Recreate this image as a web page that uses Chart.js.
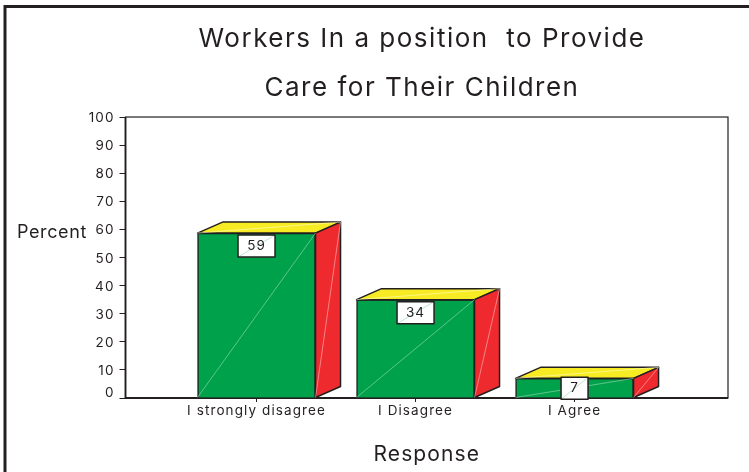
<!DOCTYPE html>
<html><head><meta charset="utf-8">
<style>html,body{margin:0;padding:0;background:#fff}canvas{display:block}</style>
<script src="https://cdn.jsdelivr.net/npm/chart.js@4"></script>
</head><body><canvas id="c" width="749" height="472"></canvas>
<script>
const titleLines = ['Workers In a position  to Provide', 'Care for Their Children'];
const categories = ['I strongly disagree', 'I Disagree', 'I Agree'];
const barHeights = [58.7, 35, 7];
const valueLabels = [59, 34, 7];
const yTicks = [0,10,20,30,40,50,60,70,80,90,100];
const xTitle = 'Response';
const yTitle = 'Percent';
const INK = '#231f20';
const FF = 'Inter, "Liberation Sans", Arial, sans-serif';
const DEPTH_X = 25, DEPTH_Y = 11;

function path(ctx, pts, fill){
  ctx.beginPath();
  pts.forEach((p,i)=> i ? ctx.lineTo(p[0],p[1]) : ctx.moveTo(p[0],p[1]));
  ctx.closePath();
  ctx.fillStyle = fill; ctx.fill();
  ctx.lineWidth = 1.5; ctx.strokeStyle = INK; ctx.lineJoin='round'; ctx.stroke();
}
function faint(ctx, a, b, col){
  ctx.beginPath(); ctx.moveTo(a[0],a[1]); ctx.lineTo(b[0],b[1]);
  ctx.lineWidth = 0.7; ctx.strokeStyle = col; ctx.stroke();
}
const chrome = {
  id:'chrome',
  afterLayout(chart){
    const t = chart.titleBlock;
    t.left = 116; t.right = 728;
    if(!t._spaced){
      t._spaced = true;
      const d = t.draw;
      t.draw = function(a){ const c=this.ctx; c.save(); c.letterSpacing='1.5px'; d.call(this,a); c.restore(); };
    }
  },
  beforeDraw(chart){
    const {ctx, chartArea:a} = chart;
    ctx.save();
    ctx.fillStyle='#fff'; ctx.fillRect(0,0,chart.width,chart.height);
    ctx.strokeStyle=INK; ctx.lineWidth=3;
    ctx.beginPath(); ctx.moveTo(5,472); ctx.lineTo(5,6.5); ctx.lineTo(749,6.5); ctx.stroke();
    ctx.lineWidth=1.2;
    ctx.strokeRect(a.left,a.top,a.right-a.left,a.bottom-a.top);
    ctx.lineWidth=1.8;
    ctx.beginPath(); ctx.moveTo(a.left,a.top); ctx.lineTo(a.left,a.bottom); ctx.lineTo(a.right,a.bottom); ctx.stroke();
    ctx.restore();
    ctx.letterSpacing='1.1px';
    chart.scales.y.getLabelItems().forEach(it=>{
      if(!it._moved){ it.options.translation[1] += it.label==='0' ? -5 : 1; it._moved=true; }
    });
  },
  afterDatasetsDraw(chart){
    const {ctx} = chart;
    const meta = chart.getDatasetMeta(0);
    ctx.save();
    ctx.letterSpacing='0px';
    meta.data.forEach((bar,i)=>{
      const w = bar.width, l = bar.x-w/2, r = bar.x+w/2, t = bar.y, b = bar.base;
      path(ctx,[[l,t],[l+DEPTH_X,t-DEPTH_Y],[r+DEPTH_X,t-DEPTH_Y],[r,t]],'#f7ec23');
      path(ctx,[[r,t],[r+DEPTH_X,t-DEPTH_Y],[r+DEPTH_X,b-DEPTH_Y],[r,b]],'#ee2a2e');
      faint(ctx,[l,b],[r,t],'rgba(190,235,210,.7)');
      faint(ctx,[r,b],[r+DEPTH_X,t-DEPTH_Y],'rgba(255,200,200,.8)');
      faint(ctx,[l,t],[r+DEPTH_X,t-DEPTH_Y],'rgba(255,255,210,.8)');
      const txt = String(valueLabels[i]);
      const bw = txt.length>1 ? 37 : 27, bh = 22;
      const by = i===2 ? t-1 : t+2;
      const bx = bar.x - bw/2;
      ctx.fillStyle='#fff'; ctx.fillRect(bx,by,bw,bh);
      faint(ctx,[bx,by+bh],[bx+bw,by],'rgba(120,200,160,.7)');
      ctx.lineWidth=1.5; ctx.strokeStyle=INK; ctx.strokeRect(bx,by,bw,bh);
      ctx.fillStyle=INK; ctx.font='13.5px '+FF; ctx.textAlign='center'; ctx.textBaseline='middle';
      ctx.letterSpacing='1px';
      ctx.fillText(txt,bar.x,by+bh/2);
      ctx.letterSpacing='0px';
    });
    ctx.restore();
  },
  afterDraw(chart){
    const {ctx} = chart;
    ctx.save();
    ctx.letterSpacing='0.6px';
    ctx.fillStyle=INK; ctx.font='18px '+FF; ctx.textAlign='left'; ctx.textBaseline='middle';
    ctx.fillText(yTitle,17,233);
    ctx.restore();
  }
};

new Chart(document.getElementById('c'),{
  type:'bar',
  plugins:[chrome],
  data:{datasets:[{
    data:barHeights.map((v,i)=>({x:i,y:v})),
    backgroundColor:'#00a14b',
    borderColor:INK,
    borderWidth:1.5,
    barThickness:118
  }]},
  options:{
    responsive:false,
    animation:false,
    layout:{padding:{left:0,right:21,top:0,bottom:0}},
    plugins:{
      legend:{display:false},
      tooltip:{enabled:false},
      title:{
        display:true,
        text:titleLines,
        color:INK,
        font:{family:FF,size:26,weight:'normal',lineHeight:1.885},
        padding:{top:15,bottom:4}
      }
    },
    scales:{
      x:{
        type:'linear',
        offset:false,
        min:-0.824,
        max:2.965,
        afterBuildTicks(s){ s.ticks = categories.map((c,i)=>({value:i})); },
        afterFit(s){ s.height = 74; },
        grid:{display:true,offset:false,drawOnChartArea:false,tickLength:4,color:INK,lineWidth:1},
        border:{display:false},
        ticks:{
          autoSkip:false,maxRotation:0,padding:1,color:INK,
          font:{family:FF,size:13.5},
          callback(v){ return categories[v]; }
        },
        title:{display:true,text:xTitle,color:INK,font:{family:FF,size:21},padding:{top:0,bottom:5}}
      },
      y:{
        min:0,max:100,
        afterBuildTicks(s){ s.ticks = yTicks.map(v=>({value:v})); },
        afterFit(s){ s.width = 125.5; },
        grid:{display:true,drawOnChartArea:false,tickLength:6,color:INK,lineWidth:1},
        border:{display:false},
        ticks:{padding:5,color:INK,font:{family:FF,size:13.5}}
      }
    }
  }
});
</script></body></html>
